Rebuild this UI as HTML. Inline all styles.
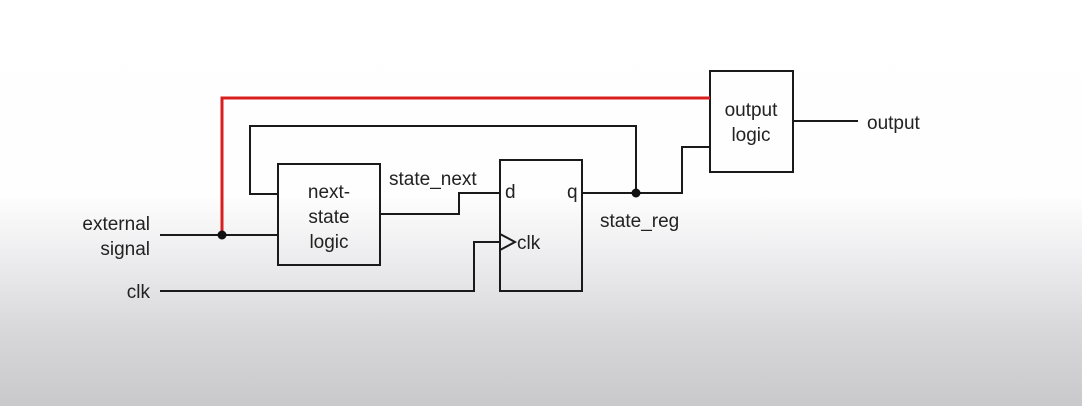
<!DOCTYPE html>
<html><head><style>
html,body{margin:0;padding:0;}
body{width:1082px;height:406px;overflow:hidden;background:linear-gradient(to bottom,#ffffff 0px,#fefefe 195px,#ececee 260px,#d8d8da 330px,#c9c9cb 406px);}
svg{position:absolute;left:0;top:0;}
text{font-family:"Liberation Sans",sans-serif;font-size:19px;fill:#222;}
</style></head><body>
<svg width="1082" height="406" viewBox="0 0 1082 406">
<g fill="none" stroke="#1a1a1a" stroke-width="2">
<rect x="278" y="164" width="102" height="101"/>
<rect x="500" y="160" width="82" height="131"/>
<rect x="710" y="71" width="83" height="101"/>
<polyline points="160,235 278,235"/>
<polyline points="278,194 250,194 250,126 636,126 636,193"/>
<polyline points="380,214 459,214 459,193 500,193"/>
<polyline points="160,291 474,291 474,242 500,242"/>
<polyline points="500,234 515,242 500,250"/>
<polyline points="582,193 682,193 682,147 710,147"/>
<polyline points="793,121 858,121"/>
</g>
<polyline points="222,235 222,98 710,98" fill="none" stroke="#d81e1e" stroke-width="3"/>
<circle cx="222" cy="235" r="4.5" fill="#111"/>
<circle cx="636" cy="193" r="4.5" fill="#111"/>
<text x="329" y="198" text-anchor="middle">next-</text>
<text x="329" y="223" text-anchor="middle">state</text>
<text x="329" y="248" text-anchor="middle">logic</text>
<text x="751" y="116" text-anchor="middle">output</text>
<text x="751" y="141" text-anchor="middle">logic</text>
<text x="867" y="129">output</text>
<text x="389" y="185">state_next</text>
<text x="600" y="227">state_reg</text>
<text x="505" y="198">d</text>
<text x="567" y="198">q</text>
<text x="517" y="249">clk</text>
<text x="150" y="230" text-anchor="end">external</text>
<text x="150" y="255" text-anchor="end">signal</text>
<text x="150" y="298" text-anchor="end">clk</text>
</svg>
</body></html>
